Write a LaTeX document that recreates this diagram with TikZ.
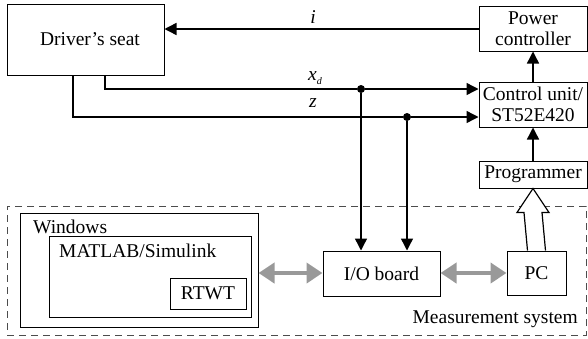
\documentclass[tikz,border=0pt]{standalone}
\usepackage{fontspec}
\setmainfont{Liberation Serif}
\usetikzlibrary{arrows.meta,calc}
\begin{document}
\begin{tikzpicture}[x=1pt,y=-1pt,
  font=\fontsize{19.5}{21}\selectfont,
  blk/.style={draw,line width=1pt,inner sep=0pt,align=center},
  sig/.style={line width=1.4pt,-{Triangle[length=12pt,width=12pt]}},
  wire/.style={line width=1.4pt},
  dataflow/.style={line width=4pt,color=black!40,
    {Triangle[length=16pt,width=20pt]}-{Triangle[length=16pt,width=20pt]}},
  dot/.style={circle,fill,inner sep=0pt,minimum size=8pt}]
\useasboundingbox (0,0) rectangle (588,338);

% plant and controller side
\node[blk,minimum width=157pt,minimum height=71pt] (seat) at (85.5,39.5) {};
\node[inner sep=0pt] (seatlbl) at (90,39.5) {Driver’s seat};
\node[blk,minimum width=108pt,minimum height=45pt] (power) at (533,28.5) {Power\\controller};
\node[blk,minimum width=108pt,minimum height=45pt] (ctrl) at (533,104.5) {Control unit/\\ST52E420};
\node[blk,minimum width=108pt,minimum height=27pt] (prog) at (533,174.5) {Programmer};

% measurement system
\node[draw,dash pattern=on 7pt off 5pt,line width=1pt,color=black!70,
      minimum width=579pt,minimum height=129pt,inner sep=0pt] (meas) at (296.5,270.5) {};
\node[anchor=east,inner sep=0pt] (measlbl) at (578,319) {Measurement system};
\node[blk,minimum width=238pt,minimum height=114pt] (win) at (139,270) {};
\node[anchor=west,inner sep=0pt] (winlbl) at (33,227) {Windows};
\node[blk,minimum width=202pt,minimum height=81pt] (mat) at (150,276.5) {};
\node[anchor=west,inner sep=0pt] (matlbl) at (59,251) {MATLAB/Simulink};
\node[blk,minimum width=76pt,minimum height=31pt] (rtwt) at (208,293.5) {RTWT};
\node[blk,minimum width=117pt,minimum height=45pt] (io) at (381.5,273.5) {I/O board};
\node[blk,minimum width=59pt,minimum height=44pt] (pc) at (536.5,273) {PC};

% signal lines
\coordinate (xdsrc) at (105,75);
\coordinate (zsrc) at (73,75);
\coordinate (xdturn) at (105,89);
\coordinate (zturn) at (73,117);
\node[dot] (xdj) at (361,89) {};
\node[dot] (zj) at (407,117) {};

\draw[sig] (power.west |- 0,29) -- (seat.east |- 0,29);
\node (ilbl) at (313,17) {\textit{i}};
\draw[wire] (xdsrc) -- (xdturn) -- (xdj);
\draw[sig] (xdj) -- (ctrl.west |- xdj);
\draw[wire] (zsrc) -- (zturn) -- (zj);
\draw[sig] (zj) -- (ctrl.west |- zj);
\node (xdlbl) at (315,78) {\textit{x}\raisebox{-0.45ex}{\fontsize{10}{10}\selectfont\textit{d}}};
\node (zlbl) at (313,103) {\textit{z}};
\draw[sig] (xdj) -- (io.north -| xdj);
\draw[sig] (zj) -- (io.north -| zj);
\draw[sig] (ctrl.north) -- (power.south);
\draw[sig] (prog.north) -- (ctrl.south);

% data links
\draw[dataflow] (win.east |- 0,273) -- (io.west |- 0,273);
\draw[dataflow] (io.east |- 0,273) -- (pc.west |- 0,273);

% programming link (hollow arrow)
\draw[line width=1.2pt,fill=white,line join=miter]
  ($(pc.north)+(-9,0)$) -- ($(prog.south)+(-9,24)$) -- ($(prog.south)+(-16,24)$)
  -- (prog.south) -- ($(prog.south)+(16,24)$) -- ($(prog.south)+(9,24)$)
  -- ($(pc.north)+(9,0)$);
\end{tikzpicture}
\end{document}
